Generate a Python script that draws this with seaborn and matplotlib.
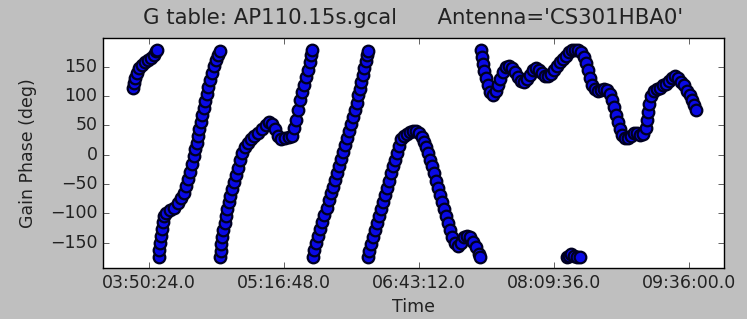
import numpy as np
import pandas as pd
import matplotlib
matplotlib.use("Agg")
import matplotlib.pyplot as plt
import seaborn as sns
from matplotlib.ticker import FuncFormatter

# time in minutes after 03:00:00, phase in degrees
seg1_min = [40.2, 40.8, 41.4, 42.7, 44.0, 45.9, 47.8, 49.8, 51.7, 53.6, 54.9, 55.5]
seg1_deg = [114, 123, 131, 140, 147, 153, 158, 162, 165, 170, 176, 179]

seg2_min = [56.8, 56.9, 57.4, 58.1, 58.7, 59.4, 60.0, 61.3, 63.8, 66.4, 68.9, 70.9, 72.8, 74.1,
            75.4, 76.6, 77.9, 79.2, 79.8, 81.1, 81.8, 82.4, 83.7, 84.3, 85.6, 86.2, 87.5, 88.2,
            89.4, 90.7, 92.0, 93.3, 94.6, 95.8]
seg2_deg = [-174, -162, -150, -138, -126, -114, -104, -99, -95, -90, -82, -73, -65, -53,
            -41, -29, -15, -3, 9, 20, 32, 44, 56, 68, 80, 92, 104, 116,
            128, 140, 152, 162, 170, 177]

seg3_min = [96.0, 96.3, 96.5, 97.1, 97.8, 99.0, 99.7, 100.3, 101.6, 102.2, 103.5, 104.8, 106.1, 107.4,
            108.6, 109.9, 111.8, 113.8, 115.7, 117.6, 120.2, 122.7, 125.3, 127.2, 129.1, 131.0, 132.9,
            134.9, 137.4, 140.0, 141.9, 143.2, 144.5, 145.8, 147.0, 148.3, 149.6, 150.9, 152.2, 153.4,
            154.1, 154.7]
seg3_deg = [-175, -164, -152, -140, -128, -116, -104, -92, -80, -70, -58, -46, -34, -22,
            -9, 3, 14, 20, 27, 32, 37, 43, 51, 56, 53, 43, 32,
            27, 29, 31, 32, 46, 60, 77, 94, 107, 119, 133, 145, 158,
            170, 179]

seg4_min = [155.4, 156.0, 157.3, 158.6, 159.8, 161.1, 162.4, 164.3, 165.6, 166.9, 168.2, 169.4,
            170.7, 172.0, 173.3, 174.6, 175.8, 177.1, 178.4, 179.7, 181.0, 182.2, 183.5, 184.2,
            185.4, 186.1, 187.4, 188.0, 189.3, 189.9, 190.6]
seg4_deg = [-174, -162, -150, -138, -126, -114, -102, -90, -78, -66, -55, -43,
            -31, -19, -7, 5, 17, 29, 41, 53, 65, 77, 89, 101,
            112, 124, 136, 148, 160, 170, 177]

seg5_min = [190.8, 191.2, 192.5, 193.8, 195.0, 196.3, 197.6, 198.9, 200.2, 201.4, 202.7, 204.0,
            205.3, 206.6, 207.8, 209.1, 210.4, 211.7, 213.6, 215.5, 217.4, 219.4, 221.3, 223.2,
            225.1, 226.4, 227.7, 229.0, 230.2, 231.5, 232.8, 234.1, 235.4, 236.6, 237.9, 239.2,
            240.5, 241.8, 243.0, 244.3, 246.2, 248.2, 250.1, 252.0, 253.9, 255.8, 257.8, 259.7,
            261.6, 262.2]
seg5_deg = [-175, -164, -152, -140, -128, -116, -104, -92, -80, -68, -56, -44,
            -32, -20, -9, 3, 15, 26, 32, 36, 39, 41, 41, 37,
            31, 22, 14, 3, -9, -20, -32, -44, -56, -68, -80, -92,
            -104, -116, -128, -140, -150, -155, -150, -141, -138, -141, -148, -158,
            -170, -174]

seg6_min = [262.9, 263.5, 264.2, 264.8, 266.1, 267.4, 268.6, 270.6, 272.5, 273.8, 275.0, 277.0,
            278.9, 280.8, 282.7, 284.6, 286.6, 288.5, 290.4, 292.3, 294.2, 296.2, 298.1, 300.0,
            301.9, 303.8, 305.8, 307.7, 309.6, 311.5, 313.4, 315.4, 317.3, 319.2, 321.1, 323.0,
            325.0, 326.9, 328.8, 330.1, 331.4, 332.6, 333.9, 335.8, 337.8, 339.7, 341.6, 343.5,
            345.4, 346.7, 348.0, 349.3, 350.6, 351.8, 353.1, 355.0, 357.0, 358.9, 360.8, 362.7,
            364.6, 366.6, 368.5, 369.1, 369.8, 370.4, 371.7, 373.6, 375.5, 377.4, 379.4, 381.3,
            383.2, 385.1, 387.0, 389.0, 390.9, 392.8, 394.7, 396.6, 397.9, 399.2, 400.5]
seg6_deg = [179, 167, 155, 143, 131, 119, 107, 102, 109, 119, 129, 141,
            150, 152, 148, 141, 133, 126, 124, 129, 136, 145, 148, 145,
            140, 135, 135, 138, 145, 152, 158, 163, 168, 175, 178, 179,
            178, 175, 167, 157, 145, 131, 119, 112, 109, 111, 112, 111,
            104, 94, 82, 68, 55, 43, 34, 29, 29, 32, 37, 37,
            34, 36, 46, 60, 73, 87, 100, 109, 112, 114, 118, 121,
            126, 131, 135, 131, 124, 118, 109, 102, 94, 85, 77]

seg7_min = [317.9, 319.2, 320.5, 322.4, 324.3, 326.2]
seg7_deg = [-175, -172, -170, -172, -174, -174]

x_tick_labels = ["03:50:24.0", "05:16:48.0", "06:43:12.0", "08:09:36.0", "09:36:00.0"]
y_ticks = [-150, -100, -50, 0, 50, 100, 150]


def to_seconds(label):
    h, m, s = label.split(":")
    return int(h) * 3600 + int(m) * 60 + float(s)


def fmt_time(v, pos=None):
    v = int(round(v))
    return f"{v // 3600:02d}:{(v % 3600) // 60:02d}:{v % 60:02d}.0"


mins = seg1_min + seg2_min + seg3_min + seg4_min + seg5_min + seg6_min + seg7_min
degs = seg1_deg + seg2_deg + seg3_deg + seg4_deg + seg5_deg + seg6_deg + seg7_deg
df = pd.DataFrame({"sec": (180 + np.array(mins)) * 60, "phase": degs})

plt.style.use("classic")
fig = plt.figure(figsize=(7.47, 3.19), dpi=100, facecolor="#bfbfbf")
ax = fig.add_axes([0.1379, 0.160, 0.8313, 0.721])

sns.scatterplot(data=df, x="sec", y="phase", color="#0a0ae6", edgecolor="#000020",
                linewidth=1.6, s=70, ax=ax, legend=False)

ax.set_xlim((180 + 20.96) * 60, (180 + 418.4) * 60)
ax.set_ylim(-193, 199)
ax.set_xticks([to_seconds(t) for t in x_tick_labels])
ax.xaxis.set_major_formatter(FuncFormatter(fmt_time))
ax.set_yticks(y_ticks)
ax.tick_params(labelsize=12.5, colors="#222222")
for s in ax.spines.values():
    s.set_color("black")

ax.set_title("G table: AP110.15s.gcal      Antenna='CS301HBA0'", fontsize=15.3,
             color="#222222", pad=10)
ax.set_xlabel("Time", fontsize=12.5, color="#222222")
ax.set_ylabel("Gain Phase (deg)", fontsize=12.5, color="#222222", labelpad=9)

fig.savefig("out.png", dpi=100, facecolor=fig.get_facecolor())
